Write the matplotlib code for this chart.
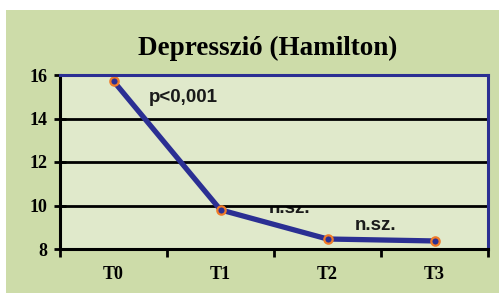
import matplotlib.pyplot as plt
from matplotlib.patches import Rectangle

# adatok
idopontok = ["T0", "T1", "T2", "T3"]
ertekek = [15.72, 9.8, 8.46, 8.37]
y_ticks = [8, 10, 12, 14, 16]
cimkek = ["p<0,001", "n.sz.", "n.sz."]
cimke_x = [0.65, 1.65, 2.45]
cimke_y = [14.95, 9.88, 9.1]

W, H = 499, 295
fig = plt.figure(figsize=(W / 100, H / 100), dpi=100)
fig.patch.set_facecolor("white")

# külső zöld háttér
fig.patches.append(Rectangle((6 / W, 2 / H), 493 / W, 283 / H,
                             transform=fig.transFigure, facecolor="#cddca9",
                             edgecolor="none", zorder=-1))

ax = fig.add_axes([60 / W, (H - 249) / H, 428 / W, 174 / H])
ax.set_zorder(1)
ax.set_facecolor("#e0e9cb")

x = list(range(len(idopontok)))
ax.plot(x, ertekek, color="#2b2f93", linewidth=3.8, zorder=4,
        solid_capstyle="round")
ax.plot(x, ertekek, linestyle="none", marker="o", markersize=6,
        markerfacecolor="#2b2f93", markeredgecolor="#f07a28",
        markeredgewidth=1.6, zorder=5)

ax.set_xlim(-0.5, 3.5)
ax.set_ylim(8, 16)

# rácsvonalak
for v in y_ticks[1:-1]:
    ax.axhline(v, color="black", linewidth=2.0, zorder=3)

for s in ["top", "right"]:
    ax.spines[s].set_color("#2b2f93")
    ax.spines[s].set_linewidth(2.2)
for s in ["left", "bottom"]:
    ax.spines[s].set_color("black")
    ax.spines[s].set_linewidth(2.2)
for sp in ax.spines.values():
    sp.set_zorder(6)

ax.set_yticks(y_ticks)
ax.set_yticklabels([str(v) for v in y_ticks], fontfamily="Liberation Serif",
                   fontweight="bold", fontsize=13)
ax.tick_params(axis="y", direction="inout", length=8, width=2, pad=5)

ax.set_xticks([-0.5, 0.5, 1.5, 2.5, 3.5])
ax.set_xticklabels([])
ax.set_xticks(x, minor=True)
ax.set_xticklabels(idopontok, minor=True, fontfamily="Liberation Serif",
                   fontweight="bold", fontsize=13)
ax.tick_params(axis="x", which="major", direction="out", length=6, width=2)
ax.tick_params(axis="x", which="minor", length=0, pad=12)

for i, (t, tx, ty) in enumerate(zip(cimkek, cimke_x, cimke_y)):
    txt = ax.text(tx, ty, t, ha="center", va="center",
                  fontfamily="Liberation Sans", fontweight="bold",
                  fontsize=13.5, color="#1a1a1a", zorder=2)
    if i == 1:
        # az eredetin a felső fele le van vágva a rácsvonalnál
        clip = Rectangle((-0.5, 8), 4, 2, transform=ax.transData)
        txt.set_clip_on(True)
        txt.set_clip_path(clip)

fig.text(268 / W, 1 - 48 / H, "Depresszió (Hamilton)", ha="center",
         va="center", fontfamily="Liberation Serif", fontweight="bold",
         fontsize=19.5)

fig.savefig("out.png", dpi=100)
